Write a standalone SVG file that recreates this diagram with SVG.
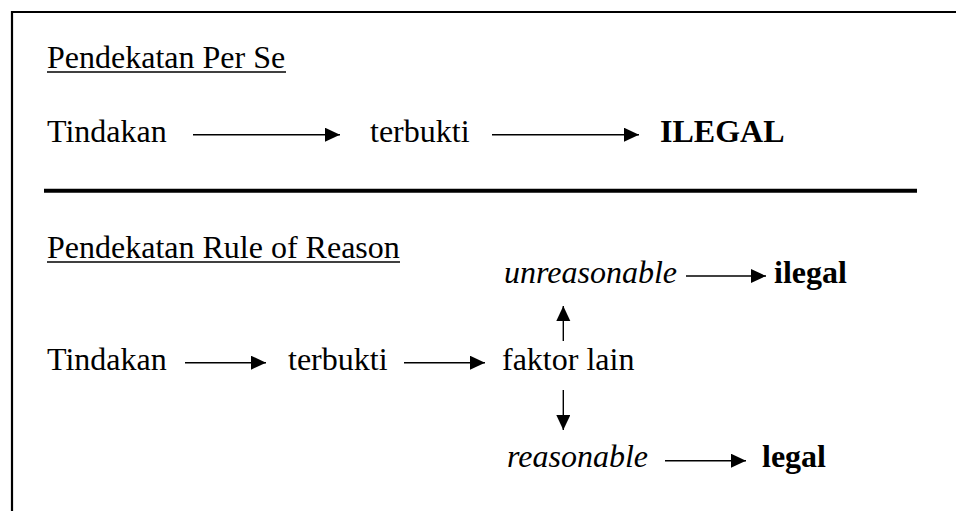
<svg xmlns="http://www.w3.org/2000/svg" width="956" height="511" viewBox="0 0 956 511">
<defs>
<style>
text{font-family:'Liberation Serif','Times New Roman',Times,serif;font-size:32px;fill:#000}
.b{font-weight:bold}
.i{font-style:italic}
.c{stroke:#000;stroke-width:1.4;fill:none}
</style>
<marker id="ah" markerUnits="userSpaceOnUse" markerWidth="16" markerHeight="15" refX="15" refY="7" orient="auto">
<path d="M0,0 L15,7 L0,14 z" fill="#000"/>
</marker>
</defs>
<rect width="956" height="511" fill="#fff"/>
<path d="M12,511 V12 H956" fill="none" stroke="#000" stroke-width="2.2"/>
<line x1="44" y1="190.7" x2="917" y2="190.7" stroke="#000" stroke-width="4"/>

<g id="title-perse">
<text x="47" y="68">Pendekatan Per Se</text>
<line x1="47" y1="72" x2="286" y2="72" stroke="#000" stroke-width="1.6"/>
</g>
<g id="n1-tindakan"><text x="47" y="142">Tindakan</text></g>
<g id="n1-terbukti"><text x="370" y="142">terbukti</text></g>
<g id="n1-ilegal"><text class="b" x="660" y="142">ILEGAL</text></g>

<g id="title-ror">
<text x="47" y="258">Pendekatan Rule of Reason</text>
<line x1="47" y1="262" x2="400" y2="262" stroke="#000" stroke-width="1.6"/>
</g>
<g id="n2-tindakan"><text x="47" y="370">Tindakan</text></g>
<g id="n2-terbukti"><text x="288" y="370">terbukti</text></g>
<g id="n2-faktor"><text x="502" y="370">faktor lain</text></g>
<g id="n2-unreasonable"><text class="i" x="504" y="283">unreasonable</text></g>
<g id="n2-ilegal"><text class="b" x="774" y="283">ilegal</text></g>
<g id="n2-reasonable"><text class="i" x="507" y="467">reasonable</text></g>
<g id="n2-legal"><text class="b" x="762" y="467">legal</text></g>

<g id="connectors">
<line class="c" x1="193" y1="134.7" x2="340" y2="134.7" marker-end="url(#ah)"/>
<line class="c" x1="492" y1="134.7" x2="639" y2="134.7" marker-end="url(#ah)"/>
<line class="c" x1="185" y1="362.7" x2="266" y2="362.7" marker-end="url(#ah)"/>
<line class="c" x1="404" y1="362.7" x2="485" y2="362.7" marker-end="url(#ah)"/>
<line class="c" x1="563.3" y1="341" x2="563.3" y2="306" marker-end="url(#ah)"/>
<line class="c" x1="563.3" y1="390" x2="563.3" y2="430" marker-end="url(#ah)"/>
<line class="c" x1="686" y1="276" x2="766" y2="276" marker-end="url(#ah)"/>
<line class="c" x1="665" y1="460.7" x2="746" y2="460.7" marker-end="url(#ah)"/>
</g>
</svg>
